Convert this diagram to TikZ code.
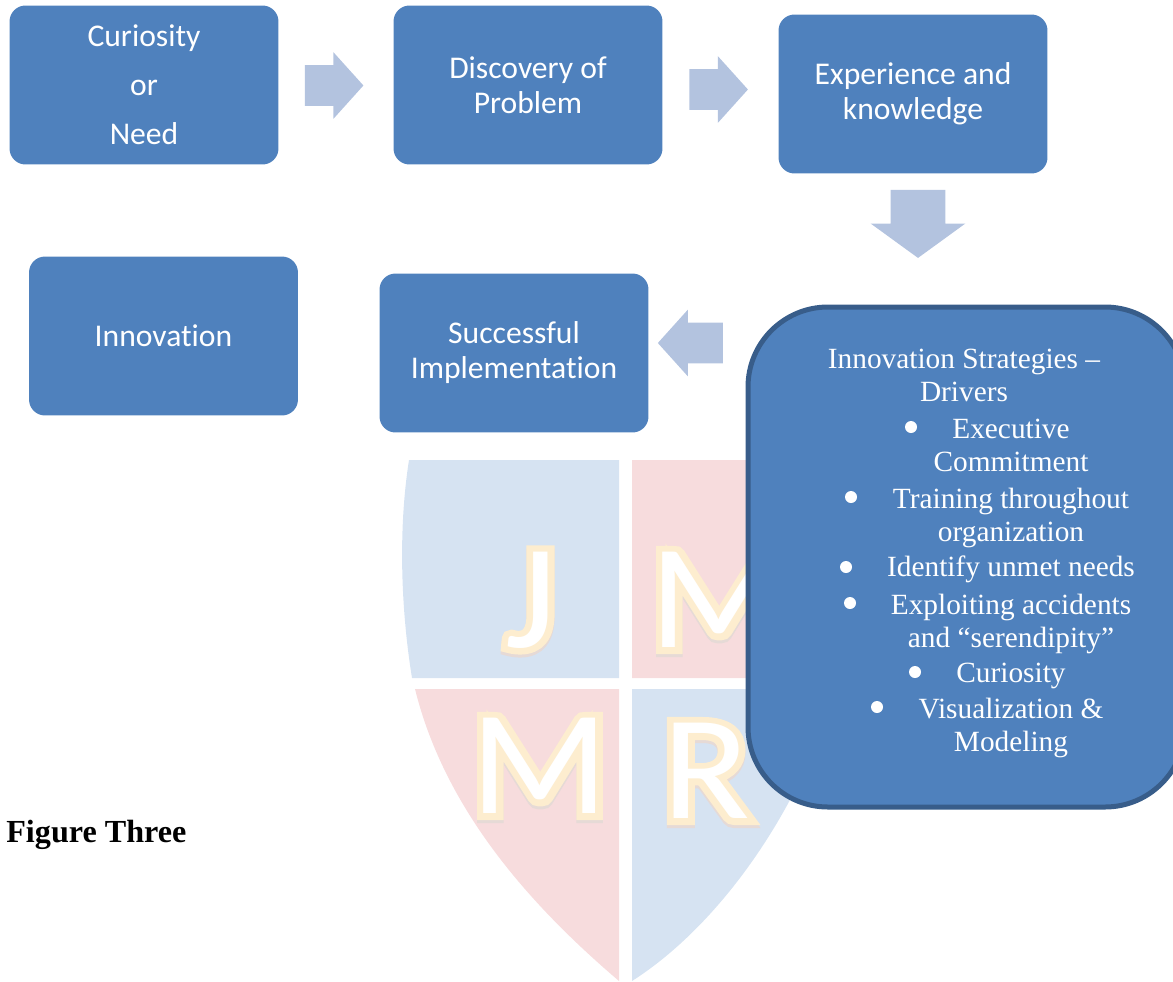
\documentclass[tikz,border=0pt]{standalone}
\usepackage{fontspec}
\setmainfont{Liberation Serif}
\newfontfamily\boxfont[Ligatures=NoCommon]{Carlito}
\newfontfamily\halofont[FakeBold=8.5]{Carlito}
\usetikzlibrary{shapes.arrows}
\definecolor{boxblue}{HTML}{4F81BD}
\definecolor{boxedge}{HTML}{385D8A}
\definecolor{arrowblue}{HTML}{B3C3DF}
\definecolor{shieldblue}{HTML}{D6E3F2}
\definecolor{shieldred}{HTML}{F7DCDD}
\definecolor{halo}{HTML}{FDEDCF}
\definecolor{haloshadow}{HTML}{E6DAD6}
\tikzset{PLANstyle/.style={
    x=0.02cm,% one unit is one pixel of the sheet
    y=-0.02cm,
    stepbox/.style={
      fill=boxblue,
      rounded corners=0.32cm,
      minimum width=5.38cm,
      minimum height=3.18cm,
      align=center,
      text=white,
      font=\boxfont\fontsize{18}{19.9}\selectfont
    },
    listline/.style={
      align=center,
      text=white,
      inner sep=0pt,
      text height=11.5pt,
      text depth=3.6pt,
      font=\fontsize{16.7}{19.3}\selectfont
    },
    dot/.style={
      circle,
      fill=white,
      inner sep=0pt,
      minimum size=0.24cm
    },
    blockarrow/.style={
      single arrow,
      fill=arrowblue,
      inner xsep=0pt
    },
    sidearrow/.style={
      blockarrow,
      inner ysep=0.4cm,
      minimum height=1.17cm,
      single arrow head extend=0.26cm,
      single arrow tip angle=96
    },
    coreletter/.style={
      text=white,
      font=\boxfont\fontsize{92}{92}\selectfont,
      inner sep=0pt
    },
    haloletter/.style={
      text=halo,
      font=\halofont\fontsize{92}{92}\selectfont,
      inner sep=0pt
    },
    shadeletter/.style={
      haloletter,
      text=haloshadow
    }
  }
}
\newcommand{\flatletter}[1]{\scalebox{1}[0.92]{#1}}

\begin{document}
\begin{tikzpicture}[PLANstyle]
  \clip (0,0) rectangle (1173,981);
  % the shield behind the boxes
  \fill[shieldblue] (409,460) -- (619,460) -- (619,678) -- (412,678)
    .. controls (401,610) and (398,530) .. cycle;
  \fill[shieldred] (632,460) -- (842,460) -- (839,678) -- (632,678) -- cycle;
  \fill[shieldred] (415,689) -- (619,689) -- (619,981)
    .. controls (530,905) and (445,810) .. cycle;
  \fill[shieldblue] (632,689) -- (836,689)
    .. controls (800,810) and (720,925) .. (632,981) -- cycle;
  \node[shadeletter] (shadeJ) at (531,603) {\flatletter{J}};
  \node[shadeletter] (shadeM) at (719,603) {\flatletter{M}};
  \node[shadeletter] (shadeL) at (540,769) {\flatletter{M}};
  \node[shadeletter] (shadeR) at (706,774) {\flatletter{R}};
  \node[haloletter] (haloJ) at (531,600) {\flatletter{J}};
  \node[haloletter] (haloM) at (719,600) {\flatletter{M}};
  \node[haloletter] (haloL) at (540,766) {\flatletter{M}};
  \node[haloletter] (haloR) at (706,771) {\flatletter{R}};
  \node[coreletter] (letterJ) at (531,600) {\flatletter{J}};
  \node[coreletter] (letterM) at (719,600) {\flatletter{M}};
  \node[coreletter] (letterL) at (540,766) {\flatletter{M}};
  \node[coreletter] (letterR) at (706,771) {\flatletter{R}};

  \node[stepbox] (need) at (144,85) {Curiosity\\[8.1pt]or\\[8.1pt]Need};
  \node[stepbox] (problem) at (528,85) {Discovery of\\Problem};
  \node[stepbox] (knowledge) at (913,94) {Experience and\\knowledge};
  \node[stepbox] (innovation) at (163.5,336) {Innovation};
  \node[stepbox] (implementation) at (514,353) {Successful\\Implementation};

  \node[sidearrow] (arrowA) at (325,85.5) {};
  \node[sidearrow] (arrowB) at (709.5,89.5) {};
  \node[blockarrow,inner ysep=0.54cm,minimum height=1.36cm,
    single arrow head extend=0.4cm,single arrow tip angle=108,
    rotate=270] (arrowC) at (918,214) {};
  \node[sidearrow,minimum height=1.3cm,rotate=180] (arrowD) at (699.5,343) {};

  \draw[boxedge,fill=boxblue,line width=0.1cm,rounded corners=1.6cm]
    (748,307) rectangle (1185,807);
  \node[listline] (drivers) at (964,395) {Innovation Strategies --\\Drivers};
  \node[dot] (dotA) at (911,427) {};
  \node[listline] (commitment) at (1011,465) {Executive\\Commitment};
  \node[dot] (dotB) at (851,497) {};
  \node[listline] (training) at (1011,535) {Training throughout\\organization};
  \node[dot] (dotC) at (846,567) {};
  \node[listline] (needs) at (1011,570) {Identify unmet needs};
  \node[dot] (dotD) at (850,603) {};
  \node[listline] (accidents) at (1011,641) {Exploiting accidents\\and ``serendipity''};
  \node[dot] (dotE) at (915,672) {};
  \node[listline] (curiosity) at (1011,676) {Curiosity};
  \node[dot] (dotF) at (877,707) {};
  \node[listline] (modeling) at (1011,745) {Visualization \&\\Modeling};

  \node[anchor=west,inner sep=0pt,font=\bfseries\fontsize{18.3}{20}\selectfont] (caption) at (6,835) {Figure Three};
\end{tikzpicture}
\end{document}
